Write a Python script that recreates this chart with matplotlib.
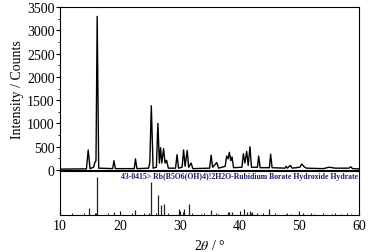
import matplotlib
matplotlib.use('Agg')
from matplotlib import pyplot as plt
from matplotlib.ticker import MultipleLocator

plt.rcParams['font.family'] = ['Liberation Serif', 'DejaVu Serif']
plt.rcParams['mathtext.fontset'] = 'stix'

two_theta = [10.0, 14.4, 14.7, 15.0, 15.6, 15.8, 16.0, 16.2, 16.45, 18.8, 19.0, 19.25,
             22.4, 22.6, 22.85, 24.8, 25.0, 25.25, 25.55, 26.1, 26.35, 26.6, 26.8, 27.0,
             27.3, 27.55, 27.8, 28.1, 29.3, 29.55, 29.8, 30.4, 30.65, 30.9, 31.25, 31.5,
             31.9, 32.2, 35.0, 35.25, 35.5, 36.2, 36.5, 37.6, 37.85, 38.1, 38.3, 38.55,
             38.75, 39.0, 40.4, 40.65, 40.9, 41.2, 41.45, 41.75, 42.0, 43.0, 43.2, 43.45,
             45.0, 45.2, 45.45, 47.6, 47.8, 48.0, 48.5, 48.8, 50.1, 50.4, 50.8, 51.2,
             54.0, 55.0, 56.0, 58.3, 58.6, 58.9, 60.0]
counts = [20, 25, 430, 30, 60, 160, 200, 3300, 40, 30, 200, 30,
          30, 240, 30, 40, 160, 1380, 40, 60, 1000, 150, 480, 150,
          460, 150, 210, 40, 40, 330, 40, 60, 430, 80, 420, 60,
          150, 30, 40, 320, 60, 160, 40, 80, 300, 240, 380, 200,
          280, 50, 60, 350, 150, 400, 100, 500, 60, 60, 300, 50,
          50, 340, 50, 40, 80, 40, 100, 40, 60, 130, 70, 40,
          30, 60, 40, 40, 70, 30, 25]

# reference card 43-0415 lines (2theta, relative intensity)
ref_pos = [14.8, 15.8, 16.25, 19.0, 22.6, 24.8, 25.2, 26.3, 26.8, 27.4, 29.8, 30.5,
           30.8, 31.6, 33.6, 35.2, 36.4, 38.0, 38.3, 38.7, 40.7, 41.2, 41.8, 42.1,
           43.0, 45.0, 47.7, 48.6, 50.6, 52.5, 55.4, 57.0, 58.6]
ref_int = [0.18, 0.05, 1.0, 0.09, 0.14, 0.06, 0.85, 0.53, 0.26, 0.30, 0.17, 0.07,
           0.17, 0.29, 0.02, 0.14, 0.04, 0.09, 0.08, 0.07, 0.15, 0.09, 0.11, 0.07,
           0.06, 0.17, 0.02, 0.02, 0.05, 0.02, 0.02, 0.02, 0.02]
card_label = '43-0415> Rb(B5O6(OH)4)!2H2O-Rubidium Borate Hydroxide Hydrate'

fig = plt.figure(figsize=(3.71, 2.53), dpi=100)
ax = fig.add_axes([0.162, 0.324, 0.806, 0.644])
ax2 = fig.add_axes([0.162, 0.146, 0.806, 0.176], sharex=ax)

ax.plot(two_theta, counts, color='black', linewidth=1.0)
ax.set_xlim(10, 60)
ax.set_ylim(0, 3500)
ax.yaxis.set_major_locator(MultipleLocator(500))
ax.yaxis.set_minor_locator(MultipleLocator(250))
ax.tick_params(axis='y', which='major', direction='out', length=3, labelsize=10, pad=1)
ax.tick_params(axis='y', which='minor', direction='out', length=1.5)
ax.tick_params(axis='x', which='both', bottom=False, labelbottom=False)
ax.set_ylabel('Intensity / Counts', fontsize=10, labelpad=2)

ax2.vlines(ref_pos, 0, ref_int, color='#222222', linewidth=0.9)
ax2.set_ylim(0, 1.16)
ax2.set_yticks([])
ax2.xaxis.set_major_locator(MultipleLocator(10))
ax2.xaxis.set_minor_locator(MultipleLocator(2))
ax2.tick_params(axis='x', which='major', direction='in', length=3, labelsize=10, pad=3)
ax2.tick_params(axis='x', which='minor', direction='in', length=1.5)
ax2.text(0.995, 0.97, card_label, transform=ax2.transAxes, ha='right', va='top',
         fontsize=5.6, fontweight='bold', color='#1c1c6b')
ax2.set_xlabel(r'2$\it{\theta}$ / °', fontsize=10, labelpad=4)

fig.savefig('out.png', dpi=100)
